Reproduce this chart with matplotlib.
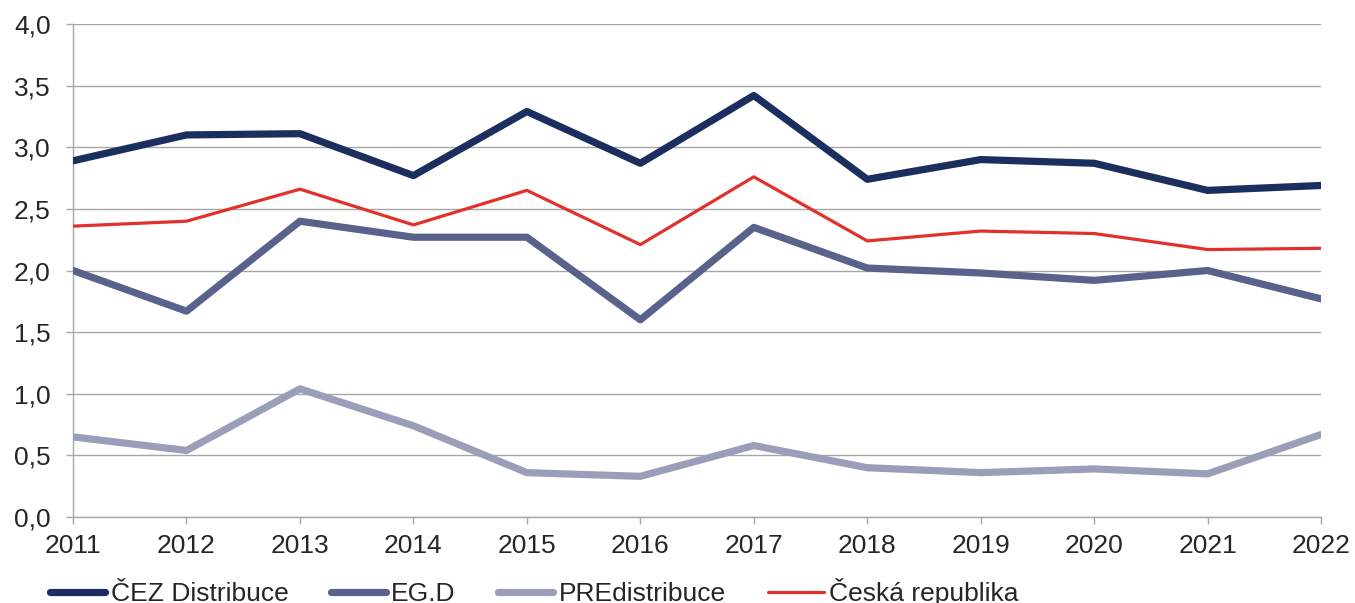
import matplotlib
matplotlib.use("Agg")
import matplotlib.pyplot as plt
from matplotlib.ticker import FuncFormatter, MultipleLocator

years = [2011, 2012, 2013, 2014, 2015, 2016, 2017, 2018, 2019, 2020, 2021, 2022]
cez = [2.89, 3.10, 3.11, 2.77, 3.29, 2.87, 3.42, 2.74, 2.90, 2.87, 2.65, 2.69]
egd = [2.00, 1.67, 2.40, 2.27, 2.27, 1.60, 2.35, 2.02, 1.98, 1.92, 2.00, 1.77]
pre = [0.65, 0.54, 1.04, 0.74, 0.36, 0.33, 0.58, 0.40, 0.36, 0.39, 0.35, 0.67]
cr = [2.36, 2.40, 2.66, 2.37, 2.65, 2.21, 2.76, 2.24, 2.32, 2.30, 2.17, 2.18]
labels = ["ČEZ Distribuce", "EG.D", "PREdistribuce", "Česká republika"]

plt.rcParams['font.family'] = ['Liberation Sans', 'DejaVu Sans']

fig = plt.figure(figsize=(13.55, 6.03), dpi=100)
ax = fig.add_axes([0.0539, 0.1426, 0.9211, 0.8176])

ax.plot(years, cez, color='#1b2f5e', lw=5.2, solid_capstyle='round', label=labels[0], zorder=4)
ax.plot(years, egd, color='#59628a', lw=5.2, solid_capstyle='round', label=labels[1], zorder=3)
ax.plot(years, pre, color='#9b9eb9', lw=5.2, solid_capstyle='round', label=labels[2], zorder=3)
ax.plot(years, cr, color='#e2302a', lw=2.3, solid_capstyle='round', label=labels[3], zorder=5)

ax.set_xlim(2011, 2022)
ax.set_ylim(0, 4.0)
ax.yaxis.set_major_locator(MultipleLocator(0.5))
ax.yaxis.set_major_formatter(FuncFormatter(lambda v, p: f"{v:.1f}".replace('.', ',')))
ax.set_xticks(years)
ax.set_xticklabels([str(y) for y in years])

ax.grid(axis='y', color='#a6a6a6', lw=1.0)
ax.set_axisbelow(True)
for s in ['top', 'right']:
    ax.spines[s].set_visible(False)
for s in ['left', 'bottom']:
    ax.spines[s].set_color('#a6a6a6')
    ax.spines[s].set_linewidth(1.0)
ax.tick_params(axis='both', colors='#a6a6a6', labelcolor='#262626', labelsize=19, length=5, width=1.0, direction='out')
ax.tick_params(axis='x', pad=7)
ax.tick_params(axis='y', pad=11)

leg = fig.legend(loc='center left', bbox_to_anchor=(0.0369, 0.018), ncol=4, frameon=False,
                 fontsize=19, handlelength=2.1, handletextpad=0.2, columnspacing=1.6,
                 borderaxespad=0, borderpad=0)
for t in leg.get_texts():
    t.set_color('#262626')
for h in leg.get_lines():
    h.set_solid_capstyle('round')

fig.savefig('out.png', dpi=100)
